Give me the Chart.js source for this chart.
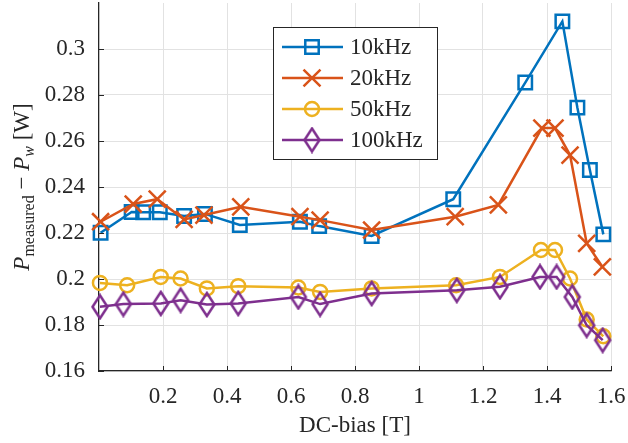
<!DOCTYPE html>
<html>
<head>
<meta charset="utf-8">
<script src="https://cdn.jsdelivr.net/npm/chart.js@4.4.1/dist/chart.umd.min.js"></script>
<style>
html, body { margin: 0; padding: 0; background: #fff; }
</style>
</head>
<body>
<canvas id="grafico" width="628" height="443"></canvas>
<script>
// DC-bias (T) y perdida medida menos perdida de devanado (W), por frecuencia
const bias10k = [0.005, 0.102, 0.138, 0.19, 0.266, 0.331, 0.44, 0.628, 0.688, 0.852, 1.107, 1.332, 1.448, 1.495, 1.534, 1.576];
const loss10k = [0.2201, 0.2291, 0.229, 0.229, 0.2274, 0.2283, 0.2235, 0.2249, 0.223, 0.2187, 0.2347, 0.2854, 0.312, 0.2745, 0.2474, 0.2194];

const bias20k = [0.005, 0.107, 0.182, 0.266, 0.328, 0.443, 0.628, 0.691, 0.852, 1.113, 1.248, 1.384, 1.425, 1.472, 1.524, 1.573];
const loss20k = [0.2249, 0.2326, 0.2347, 0.2259, 0.2278, 0.2314, 0.2271, 0.2256, 0.2213, 0.2271, 0.2322, 0.2656, 0.2656, 0.2539, 0.2155, 0.2053];

const bias50k = [0.003, 0.088, 0.193, 0.255, 0.337, 0.435, 0.623, 0.691, 0.852, 1.116, 1.253, 1.381, 1.425, 1.472, 1.524, 1.576];
const loss50k = [0.1983, 0.1973, 0.2009, 0.2002, 0.1959, 0.1969, 0.1963, 0.1944, 0.1959, 0.1973, 0.2009, 0.2126, 0.2126, 0.2002, 0.1824, 0.1751];

const bias100k = [0.003, 0.076, 0.193, 0.255, 0.337, 0.435, 0.623, 0.691, 0.852, 1.118, 1.253, 1.378, 1.43, 1.479, 1.524, 1.574];
const loss100k = [0.1879, 0.1891, 0.1894, 0.1908, 0.1889, 0.1894, 0.1922, 0.1891, 0.1937, 0.1951, 0.1966, 0.2009, 0.2009, 0.1922, 0.1799, 0.1734];

const etiquetas = ['10kHz', '20kHz', '50kHz', '100kHz'];
const xTicks = [0.2, 0.4, 0.6, 0.8, 1, 1.2, 1.4, 1.6];
const yTicks = [0.16, 0.18, 0.2, 0.22, 0.24, 0.26, 0.28, 0.3];

const colores = ['#0072BD', '#D95319', '#EDB120', '#7E2F8E'];
const fuente = 'Liberation Serif';
const gris = '#262626';
const grosor = 2.5;

// rombo alto y estrecho como el marcador 'd'
function rombo(color) {
    const c = document.createElement('canvas');
    c.width = 20; c.height = 27;
    const g = c.getContext('2d');
    g.strokeStyle = color;
    g.lineWidth = grosor;
    g.beginPath();
    g.moveTo(10, 2); g.lineTo(17.5, 13.5); g.lineTo(10, 25); g.lineTo(2.5, 13.5);
    g.closePath();
    g.stroke();
    return c;
}

function serie(i, xs, ys, estilo, radio) {
    return {
        label: etiquetas[i],
        data: xs.map((x, k) => ({ x: x, y: ys[k] })),
        borderColor: colores[i],
        backgroundColor: 'rgba(0,0,0,0)',
        pointBorderColor: colores[i],
        pointBackgroundColor: 'rgba(0,0,0,0)',
        borderWidth: grosor,
        pointBorderWidth: grosor,
        pointStyle: estilo,
        pointRadius: radio,
        tension: 0,
        clip: false,
        order: 4 - i
    };
}

// marcas de tick hacia dentro
const ticksDentro = {
    id: 'ticksDentro',
    afterDraw(chart) {
        const ctx = chart.ctx, a = chart.chartArea;
        const sx = chart.scales.x, sy = chart.scales.y;
        ctx.save();
        ctx.strokeStyle = gris;
        ctx.lineWidth = 1;
        ctx.beginPath();
        xTicks.forEach(v => {
            const px = Math.round(sx.getPixelForValue(v)) + 0.5;
            ctx.moveTo(px, a.bottom); ctx.lineTo(px, a.bottom - 5);
        });
        yTicks.forEach(v => {
            const py = Math.round(sy.getPixelForValue(v)) + 0.5;
            ctx.moveTo(a.left, py); ctx.lineTo(a.left + 5, py);
        });
        ctx.stroke();
        ctx.restore();
    }
};

// titulo del eje y con subindices
const tituloY = {
    id: 'tituloY',
    afterDraw(chart) {
        const ctx = chart.ctx, a = chart.chartArea;
        const partes = [
            { t: 'P', f: 'italic 23px ' + fuente, dy: 0 },
            { t: 'measured', f: '16px ' + fuente, dy: 5 },
            { t: ' \u2212 ', f: '23px ' + fuente, dy: 0 },
            { t: 'P', f: 'italic 23px ' + fuente, dy: 0 },
            { t: 'w', f: 'italic 16px ' + fuente, dy: 5 },
            { t: ' [W]', f: '23px ' + fuente, dy: 0 }
        ];
        ctx.save();
        let total = 0;
        partes.forEach(p => { ctx.font = p.f; p.w = ctx.measureText(p.t).width; total += p.w; });
        ctx.translate(29, (a.top + a.bottom) / 2);
        ctx.rotate(-Math.PI / 2);
        ctx.fillStyle = gris;
        ctx.textBaseline = 'alphabetic';
        let x = -total / 2;
        partes.forEach(p => {
            ctx.font = p.f;
            ctx.fillText(p.t, x, p.dy);
            x += p.w;
        });
        ctx.restore();
    }
};

// leyenda en recuadro dentro del area de datos
const leyenda = {
    id: 'leyenda',
    afterDraw(chart) {
        const ctx = chart.ctx;
        const bx = 273, by = 27, bw = 164, bh = 132;
        ctx.save();
        ctx.fillStyle = '#fff';
        ctx.fillRect(bx, by, bw, bh);
        ctx.strokeStyle = gris;
        ctx.lineWidth = 1;
        ctx.strokeRect(bx + 0.5, by + 0.5, bw, bh);
        chart.data.datasets.forEach((ds, i) => {
            const y = by + 20 + i * 31;
            ctx.strokeStyle = ds.borderColor;
            ctx.lineWidth = grosor;
            ctx.beginPath();
            ctx.moveTo(bx + 9, y); ctx.lineTo(bx + 70, y);
            ctx.stroke();
            ctx.fillStyle = 'rgba(0,0,0,0)';
            Chart.helpers.drawPoint(ctx, {
                pointStyle: ds.pointStyle, radius: ds.pointRadius,
                borderWidth: grosor, rotation: 0
            }, bx + 39, y);
            ctx.fillStyle = gris;
            ctx.font = '23px ' + fuente;
            ctx.textBaseline = 'middle';
            ctx.fillText(ds.label, bx + 77, y + 1);
        });
        ctx.restore();
    }
};

new Chart(document.getElementById('grafico'), {
    type: 'line',
    data: {
        datasets: [
            serie(0, bias10k, loss10k, 'rect', 9.5),
            serie(1, bias20k, loss20k, 'crossRot', 12),
            serie(2, bias50k, loss50k, 'circle', 7),
            serie(3, bias100k, loss100k, rombo(colores[3]), 10)
        ]
    },
    options: {
        responsive: false,
        animation: false,
        layout: { autoPadding: false, padding: { left: 0, right: 17, top: 3, bottom: 0 } },
        plugins: { legend: { display: false }, tooltip: { enabled: false } },
        scales: {
            x: {
                type: 'linear', min: 0, max: 1.6,
                afterBuildTicks: s => { s.ticks = xTicks.map(v => ({ value: v })); },
                afterFit: s => { s.height = 72; s.paddingLeft = 0; s.paddingRight = 0; },
                grid: { color: '#e2e2e2', lineWidth: 1, drawTicks: false },
                border: { color: gris, width: 1.3 },
                ticks: { font: { family: fuente, size: 23 }, color: gris, padding: 12, maxRotation: 0,
                         callback: v => String(v) },
                title: { display: true, text: 'DC-bias [T]', color: gris,
                         font: { family: fuente, size: 23 }, padding: { top: 0, bottom: 3 } }
            },
            y: {
                type: 'linear', min: 0.16, max: 0.32,
                afterBuildTicks: s => { s.ticks = yTicks.map(v => ({ value: v })); },
                afterFit: s => { s.width = 99; s.paddingTop = 0; s.paddingBottom = 0; },
                grid: { color: '#e2e2e2', lineWidth: 1, drawTicks: false },
                border: { color: gris, width: 1.3 },
                ticks: { font: { family: fuente, size: 23 }, color: gris, padding: 14,
                         callback: v => String(Math.round(v * 100) / 100) }
            }
        }
    },
    plugins: [ticksDentro, tituloY, leyenda]
});
</script>
</body>
</html>
